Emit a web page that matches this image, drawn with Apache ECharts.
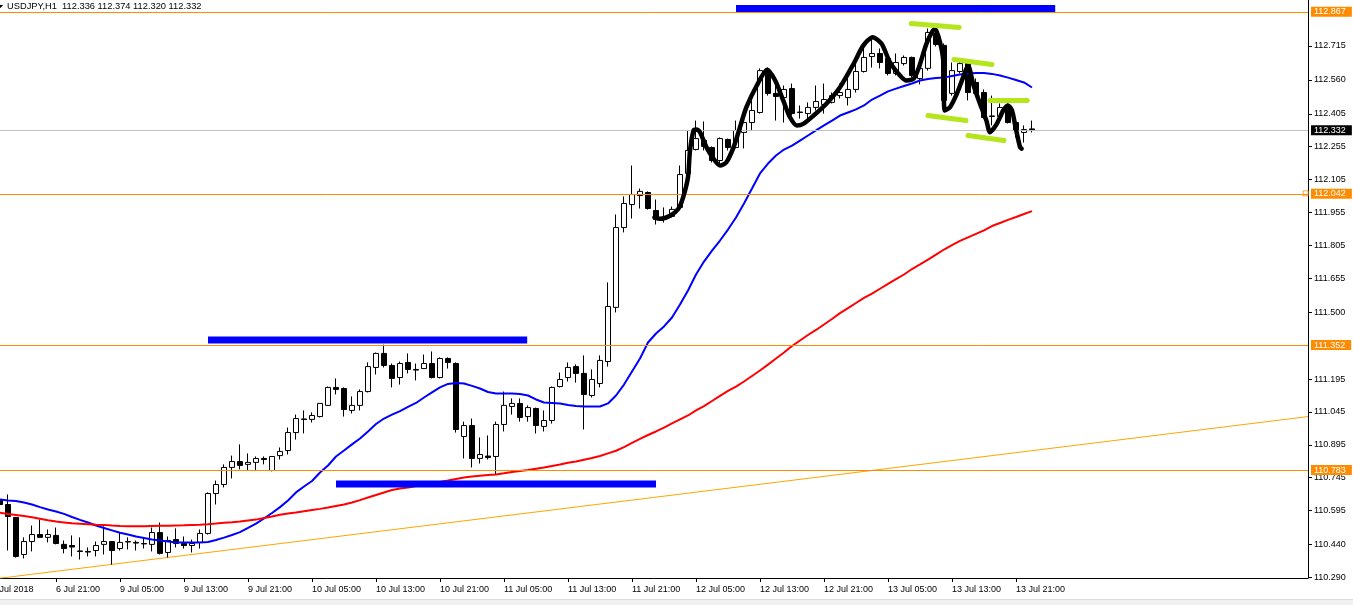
<!DOCTYPE html>
<html><head><meta charset="utf-8">
<script src="https://cdn.jsdelivr.net/npm/echarts@6/dist/echarts.min.js"></script>
<style>html,body{margin:0;padding:0;background:#fff}#c{width:1353px;height:605px}</style>
</head><body><div id="c"></div>
<script>
// ---- time axis: hourly bars (trading hours only) ----
const dayBlocks = [['6 Jul', 13], ['9 Jul', 0], ['10 Jul', 0], ['11 Jul', 0], ['12 Jul', 0], ['13 Jul', 0]];
const firstLabel = '6 Jul 2018';
const futureSlots = 34; // empty space right of the last bar (chart shift)

// ---- candles [open, high, low, close], one per hour starting 6 Jul 14:00 ----
const candles = [
[110.646,110.664,110.614,110.623],[110.623,110.669,110.413,110.568],[110.564,110.566,110.381,110.386],[110.395,110.473,110.377,110.454],
[110.454,110.527,110.409,110.486],[110.486,110.555,110.472,110.473],[110.473,110.509,110.450,110.486],[110.482,110.518,110.441,110.445],
[110.441,110.459,110.400,110.422],[110.436,110.482,110.386,110.429],[110.411,110.473,110.372,110.409],[110.409,110.427,110.386,110.406],
[110.413,110.454,110.386,110.436],[110.441,110.523,110.395,110.454],[110.454,110.455,110.349,110.413],[110.422,110.495,110.413,110.450],
[110.452,110.473,110.418,110.454],[110.450,110.459,110.413,110.447],[110.445,110.473,110.422,110.443],[110.441,110.518,110.409,110.495],
[110.495,110.541,110.395,110.400],[110.404,110.477,110.381,110.459],[110.463,110.514,110.427,110.445],[110.445,110.477,110.422,110.436],
[110.436,110.463,110.404,110.445],[110.450,110.509,110.422,110.491],[110.491,110.678,110.486,110.673],[110.673,110.732,110.623,110.714],
[110.714,110.806,110.701,110.792],[110.792,110.846,110.742,110.819],[110.819,110.897,110.783,110.801],[110.806,110.856,110.778,110.815],
[110.815,110.842,110.778,110.833],[110.833,110.842,110.806,110.828],[110.778,110.842,110.774,110.842],[110.846,110.883,110.828,110.865],
[110.869,110.974,110.851,110.951],[110.951,111.033,110.919,111.015],[111.013,111.052,110.947,111.011],[111.011,111.043,110.997,111.029],
[111.024,111.084,111.020,111.084],[111.075,111.161,111.072,111.157],[111.157,111.198,111.125,111.148],[111.152,111.157,111.024,111.056],
[111.052,111.116,111.038,111.075],[111.075,111.148,111.052,111.138],[111.138,111.271,111.134,111.252],[111.248,111.316,111.216,111.312],
[111.312,111.352,111.248,111.257],[111.257,111.266,111.157,111.198],[111.202,111.275,111.170,111.266],[111.271,111.312,111.221,111.239],
[111.239,111.266,111.189,111.236],[111.243,111.307,111.243,111.266],[111.266,111.321,111.198,111.202],[111.202,111.294,111.198,111.289],
[111.289,111.294,111.243,111.271],[111.266,111.271,110.951,110.965],[110.933,111.001,110.833,110.983],[110.983,111.015,110.792,110.833],
[110.833,110.929,110.810,110.851],[110.844,110.938,110.828,110.837],[110.842,111.001,110.760,110.988],[110.988,111.138,110.956,111.075],
[111.070,111.107,111.033,111.084],[111.084,111.107,111.001,111.020],[111.024,111.075,111.001,111.065],[111.061,111.065,110.947,110.983],
[110.979,111.052,110.956,111.006],[111.006,111.161,110.992,111.157],[111.161,111.225,111.157,111.193],[111.202,111.271,111.184,111.248],
[111.252,111.262,111.179,111.221],[111.221,111.303,110.965,111.125],[111.120,111.239,111.111,111.193],[111.175,111.303,111.157,111.280],
[111.275,111.636,111.252,111.526],[111.522,111.946,111.499,111.886],[111.886,112.028,111.864,111.996],[111.991,112.169,111.927,112.037],
[112.032,112.064,111.973,112.051],[112.046,112.051,111.968,111.973],[111.964,112.014,111.900,111.923],[111.925,111.978,111.909,111.923],
[111.937,111.982,111.932,111.969],[111.978,112.169,111.973,112.128],[112.133,112.329,112.119,112.238],[112.242,112.374,112.238,112.292],
[112.283,112.370,112.238,112.256],[112.251,112.256,112.183,112.192],[112.192,112.297,112.178,112.292],[112.288,112.292,112.238,112.251],
[112.251,112.374,112.247,112.329],[112.320,112.406,112.247,112.365],[112.365,112.466,112.329,112.420],[112.411,112.612,112.406,112.602],
[112.593,112.616,112.488,112.498],[112.498,112.570,112.374,112.484],[112.479,112.534,112.365,112.516],[112.520,112.543,112.397,112.406],
[112.413,112.443,112.383,112.411],[112.406,112.457,112.374,112.434],[112.434,112.534,112.420,112.461],[112.447,112.543,112.406,112.470],
[112.457,112.502,112.452,112.488],[112.488,112.543,112.475,112.502],[112.479,112.570,112.443,112.516],[112.516,112.639,112.502,112.598],
[112.598,112.707,112.593,112.662],[112.666,112.753,112.616,112.680],[112.680,112.703,112.612,112.639],[112.657,112.666,112.580,112.589],
[112.589,112.680,112.580,112.639],[112.634,112.671,112.625,112.662],[112.662,112.666,112.570,112.580],[112.566,112.634,112.539,112.612],
[112.612,112.794,112.602,112.776],[112.771,112.799,112.712,112.721],[112.717,112.726,112.457,112.466],[112.498,112.639,112.488,112.602],
[112.598,112.648,112.589,112.634],[112.634,112.639,112.466,112.502],[112.548,112.566,112.488,112.498],[112.502,112.516,112.383,112.388],
[112.395,112.488,112.352,112.393],[112.393,112.452,112.383,112.434],[112.443,112.452,112.361,112.365],[112.365,112.388,112.297,112.329],
[112.320,112.352,112.274,112.333],[112.336,112.374,112.320,112.332]
];

// ---- moving averages (blue fast, red slow), one value per candle ----
const maBlue = [
110.646,110.641,110.639,110.632,110.623,110.611,110.600,110.591,110.580,110.566,110.553,110.541,110.527,110.516,110.505,110.494,
110.486,110.477,110.470,110.463,110.459,110.454,110.450,110.450,110.450,110.450,110.452,110.461,110.472,110.484,110.497,110.516,
110.536,110.559,110.584,110.611,110.641,110.678,110.705,110.730,110.769,110.801,110.842,110.869,110.897,110.924,110.956,110.990,
111.015,111.033,111.049,111.068,111.086,111.111,111.134,111.157,111.173,111.177,111.175,111.164,111.152,111.136,111.129,111.129,
111.129,111.127,111.120,111.102,111.088,111.086,111.084,111.077,111.072,111.070,111.070,111.070,111.084,111.120,111.170,111.230,
111.289,111.362,111.403,111.435,111.476,111.535,111.599,111.672,111.731,111.781,111.827,111.877,111.932,111.996,112.064,112.133,
112.178,112.215,112.242,112.260,112.283,112.306,112.329,112.352,112.374,112.397,112.411,112.425,112.443,112.470,112.488,112.507,
112.520,112.532,112.543,112.557,112.564,112.568,112.570,112.577,112.584,112.589,112.591,112.591,112.587,112.580,112.570,112.559,
112.548,112.525
];
const maRed = [
110.585,110.580,110.575,110.570,110.565,110.558,110.551,110.545,110.541,110.537,110.535,110.533,110.531,110.530,110.527,110.525,
110.524,110.524,110.524,110.525,110.526,110.526,110.527,110.528,110.530,110.531,110.533,110.536,110.540,110.542,110.545,110.550,
110.554,110.561,110.568,110.576,110.582,110.586,110.592,110.598,110.603,110.609,110.616,110.623,110.632,110.643,110.655,110.666,
110.678,110.689,110.696,110.700,110.707,110.712,110.719,110.726,110.732,110.739,110.746,110.751,110.754,110.757,110.760,110.765,
110.771,110.776,110.780,110.786,110.792,110.799,110.805,110.813,110.819,110.827,110.835,110.844,110.856,110.868,110.885,110.904,
110.922,110.940,110.956,110.974,110.993,111.011,111.029,111.052,111.072,111.095,111.118,111.141,111.161,111.184,111.209,111.234,
111.261,111.289,111.316,111.346,111.371,111.396,111.419,111.444,111.469,111.496,111.519,111.542,111.565,111.585,111.607,111.629,
111.651,111.672,111.697,111.718,111.740,111.763,111.786,111.806,111.825,111.841,111.857,111.873,111.893,111.907,111.921,111.934,
111.948,111.961
];

// ---- price axis ----
const yMin = 110.2877, yMax = 112.9240;
const yTicks = [112.715,112.560,112.405,112.255,112.105,111.955,111.805,111.655,111.500,111.195,111.045,110.895,110.745,110.595,110.440,110.290];
const hLines = [
  {price: 112.867, color: '#FF8C00', label: '#FF8C00'},
  {price: 112.332, color: '#C0C0C0', label: '#000000'},
  {price: 112.042, color: '#FF8C00', label: '#FF8C00'},
  {price: 111.352, color: '#FF8C00', label: '#FF8C00'},
  {price: 110.783, color: '#FF8C00', label: '#FF8C00'}
];
const lineAnchor = [[164.2, 112.042]];

// ---- chart drawings, in (bar position, price) ----
const trendLine = [[-0.5, 110.280], [164.5, 111.024]];
const blueZones = [
  [[93, 112.885], [132.9, 112.885]],
  [[27, 111.373], [66.9, 111.373]],
  [[43, 110.717], [83, 110.717]]
];
const drawnPath = [[82.8,111.933],[83.5,111.926],[84.75,111.940],[85.8,111.972],[86.4,112.025],[87.0,112.116],[87.25,112.238],[87.7,112.329],
[88.1,112.333],[88.5,112.321],[89.3,112.253],[90.2,112.200],[91.0,112.169],[91.8,112.184],[92.7,112.253],[93.5,112.344],[94.3,112.435],
[95.6,112.534],[96.9,112.606],[97.9,112.557],[98.9,112.466],[99.75,112.389],[100.6,112.352],[101.4,112.359],[102.7,112.397],[104.3,112.451],
[106.0,112.526],[107.7,112.633],[108.9,112.716],[110.1,112.754],[111.2,112.724],[112.25,112.640],[113.5,112.580],[114.3,112.557],[115.2,112.565],
[115.8,112.610],[116.8,112.724],[117.5,112.777],[117.9,112.793],[118.5,112.731],[118.9,112.648],[119.1,112.420],[119.75,112.435],[120.6,112.496],
[121.4,112.572],[122.0,112.625],[122.7,112.534],[123.5,112.451],[124.3,112.374],[124.75,112.321],[125.6,112.359],[126.4,112.420],[127.0,112.443],
[127.5,112.420],[127.9,112.352],[128.5,112.253],[128.7,112.246]];
const greenMarks = [
  [[114.9, 112.817], [120.9, 112.799]],
  [[120.25, 112.653], [125.0, 112.630]],
  [[124.75, 112.466], [129.4, 112.466]],
  [[117.0, 112.397], [121.75, 112.374]],
  [[122.0, 112.306], [126.5, 112.283]]
];
const titleText = 'USDJPY,H1  112.336 112.374 112.320 112.332';

// ---- build ----
const categories = [];
dayBlocks.forEach(([d, h0]) => { for (let h = h0; h < 24; h++) categories.push(d + ' ' + String(h).padStart(2, '0') + ':00'); });
const nBars = categories.length; // includes the hidden first slot
for (let k = 0; k < futureSlots; k++) categories.push('');
const nCat = categories.length;

const candleData = [['-', '-', '-', '-']].concat(candles.map(c => [c[0], c[3], c[2], c[1]]));
const blueData = ['-'].concat(maBlue);
const redData = ['-'].concat(maRed);

const FONT = 'Liberation Sans, Arial, sans-serif';
const showLabel = (idx) => idx % 8 === 0 && idx < nBars;

const overlay = (data, color, width, extra) => Object.assign({
  type: 'line', xAxisIndex: 1, yAxisIndex: 0, data: data, symbol: 'none', silent: true,
  lineStyle: {color: color, width: width}, animation: false
}, extra || {});

const series = [
  overlay(trendLine, '#FFA500', 1, {z: 1}),
  {
    type: 'candlestick', data: candleData, barWidth: 5, z: 2, animation: false, silent: true,
    itemStyle: {color: '#ffffff', color0: '#000000', borderColor: '#000000', borderColor0: '#000000', borderWidth: 1},
    markLine: {
      symbol: 'none', silent: true, animation: false,
      data: hLines.map(h => ({
        yAxis: h.price,
        lineStyle: {color: h.color, width: 1, type: 'solid'},
        label: {show: true, position: 'end', distance: 3, formatter: () => h.price.toFixed(3),
          color: '#ffffff', backgroundColor: h.label, padding: [1, 6, 0, 3],
          fontFamily: FONT, fontSize: 9}
      }))
    }
  },
  {type: 'line', data: blueData, symbol: 'none', z: 3, silent: true, animation: false, lineStyle: {color: '#0000FF', width: 2}},
  {type: 'line', data: redData, symbol: 'none', z: 3, silent: true, animation: false, lineStyle: {color: '#FF0000', width: 2}},
  {type: 'scatter', xAxisIndex: 1, data: lineAnchor, symbol: 'rect', symbolSize: 5, z: 4, silent: true, animation: false,
   itemStyle: {color: '#ffffff', borderColor: '#FF8C00', borderWidth: 1}}
];
blueZones.forEach(seg => series.push(overlay(seg, '#0000FF', 7, {z: 5, lineStyle: {color: '#0000FF', width: 7, cap: 'butt'}})));
series.push(overlay(drawnPath, '#000000', 4.5, {z: 6, smooth: 0.25, lineStyle: {color: '#000000', width: 4.5, cap: 'round', join: 'round'}}));
greenMarks.forEach(seg => series.push(overlay(seg, '#B5E61D', 5, {z: 7, lineStyle: {color: '#B5E61D', width: 5, cap: 'round'}})));

const chart = echarts.init(document.getElementById('c'), null, {renderer: 'canvas'});
chart.setOption({
  animation: false,
  backgroundColor: '#ffffff',
  title: {text: titleText, left: 7, top: 2, padding: 0,
    textStyle: {fontFamily: FONT, fontSize: 9.3, fontWeight: 'normal', color: '#000000'}},
  grid: {left: -12, right: 45, top: 0, bottom: 27, containLabel: false, outerBoundsMode: 'none'},
  xAxis: [
    {type: 'category', data: categories, boundaryGap: true,
     axisLine: {show: true, onZero: false, lineStyle: {color: '#000000', width: 1}},
     axisTick: {show: true, alignWithLabel: true, interval: showLabel, length: 4, lineStyle: {color: '#000000'}},
     axisLabel: {show: true, interval: showLabel, align: 'left', margin: 7, color: '#000000', hideOverlap: false,
       fontFamily: FONT, fontSize: 9, formatter: (v, idx) => idx === 0 ? firstLabel : v},
     splitLine: {show: false}},
    {type: 'value', show: false, min: -0.5, max: nCat - 0.5, axisLine: {onZero: false}}
  ],
  yAxis: [{
    type: 'value', position: 'right', min: yMin, max: yMax, scale: true,
    axisLine: {show: true, onZero: false, lineStyle: {color: '#000000', width: 1}},
    axisTick: {show: true, length: 4, customValues: yTicks, lineStyle: {color: '#000000'}},
    axisLabel: {show: true, margin: 6, customValues: yTicks, formatter: v => v.toFixed(3),
      color: '#000000', fontFamily: FONT, fontSize: 9},
    splitLine: {show: false}
  }],
  graphic: [
    {type: 'rect', shape: {x: 0, y: 600, width: 1353, height: 5}, style: {fill: '#f0f0f0'}, silent: true},
    {type: 'line', shape: {x1: 0, y1: 599.5, x2: 1353, y2: 599.5}, style: {stroke: '#dcdcdc', lineWidth: 1}, silent: true},
    {type: 'polygon', shape: {points: [[-2, 5], [3, 5], [0.5, 8]]}, style: {fill: '#000000'}, silent: true}
  ],
  series: series
});
</script></body></html>
